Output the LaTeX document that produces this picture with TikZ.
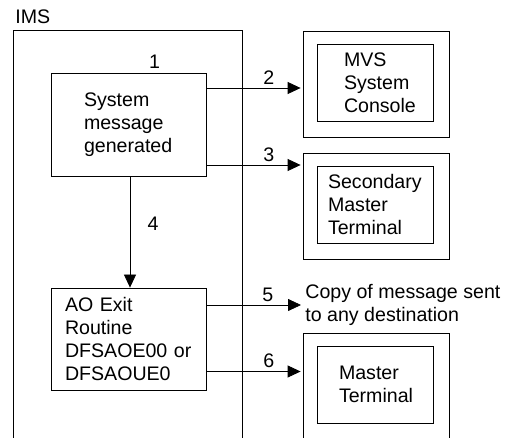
\documentclass[tikz,border=0pt]{standalone}
\usepackage{fontspec}
\setmainfont{Liberation Sans}
\usetikzlibrary{arrows.meta,positioning}

\begin{document}
\begin{tikzpicture}[x=1pt,y=-1pt,line width=0.8pt,
    font=\fontsize{19.6}{23}\selectfont]
  \tikzstyle{box}=[draw,inner ysep=0pt,align=left]
  \tikzstyle{frame}=[draw,minimum width=146pt,minimum height=106pt]
  \tikzstyle{arr}=[-{Triangle[length=13pt,width=12pt]},shorten >=2pt]
  \useasboundingbox (0,0) rectangle (507,438);
  \clip (0,0) rectangle (507,438);

  % IMS region, open at the bottom
  \node (imsframe) [draw,minimum width=229pt,minimum height=440pt,anchor=north west] at (13,30) {};
  \node (ims) [anchor=base west,inner sep=0pt] at (15,24) {IMS};

  \node (sysmsg) [box,text width=89pt,inner xsep=33pt,minimum height=103pt,
      label={[xshift=26pt]above:1}] at (128.5,124.5) {System\\message\\generated};
  \node (aoexit) [box,text width=127pt,inner xsep=14pt,minimum height=102pt]
      at (128.5,339) {AO Exit\\Routine\\DFSAOE00 or\\DFSAOUE0};

  % destinations
  \node (mvsframe) [frame] at (376,84) {};
  \node (secframe) [frame] at (376,206) {};
  \node (mstframe) [frame,minimum height=130pt,anchor=north] at (376,333) {};
  \node (mvs) [box,text width=62pt,inner xsep=27pt,minimum height=77pt]
      at (375,82.5) {MVS\\System\\Console};
  \node (secmst) [box,text width=94pt,inner xsep=11pt,minimum height=77pt]
      at (375,204.5) {Secondary\\Master\\Terminal};
  \node (mst) [box,text width=72pt,inner xsep=22pt,minimum height=77pt]
      at (375,384.5) {Master\\Terminal};
  \node (copy) [anchor=west,inner xsep=4pt,inner ysep=0pt,align=left]
      at (301,305) {Copy of message sent\\to any destination};

  \draw[arr] (sysmsg.east |- 0,88) -- (mvsframe.west |- 0,88) node[above,pos=0.65]{2};
  \draw[arr] (sysmsg.east |- 0,165) -- (secframe.west |- 0,165) node[above,pos=0.65]{3};
  \draw[arr,shorten >=0pt] (sysmsg.south -| 130,0) -- (aoexit.north -| 130,0)
      node[right,pos=0.43,xshift=14pt]{4};
  \draw[arr,shorten >=0pt] (aoexit.east |- copy.west) -- (copy.west) node[above,pos=0.65]{5};
  \draw[arr] (aoexit.east |- 0,371.5) -- (mstframe.west |- 0,371.5) node[above,pos=0.65]{6};
\end{tikzpicture}
\end{document}
